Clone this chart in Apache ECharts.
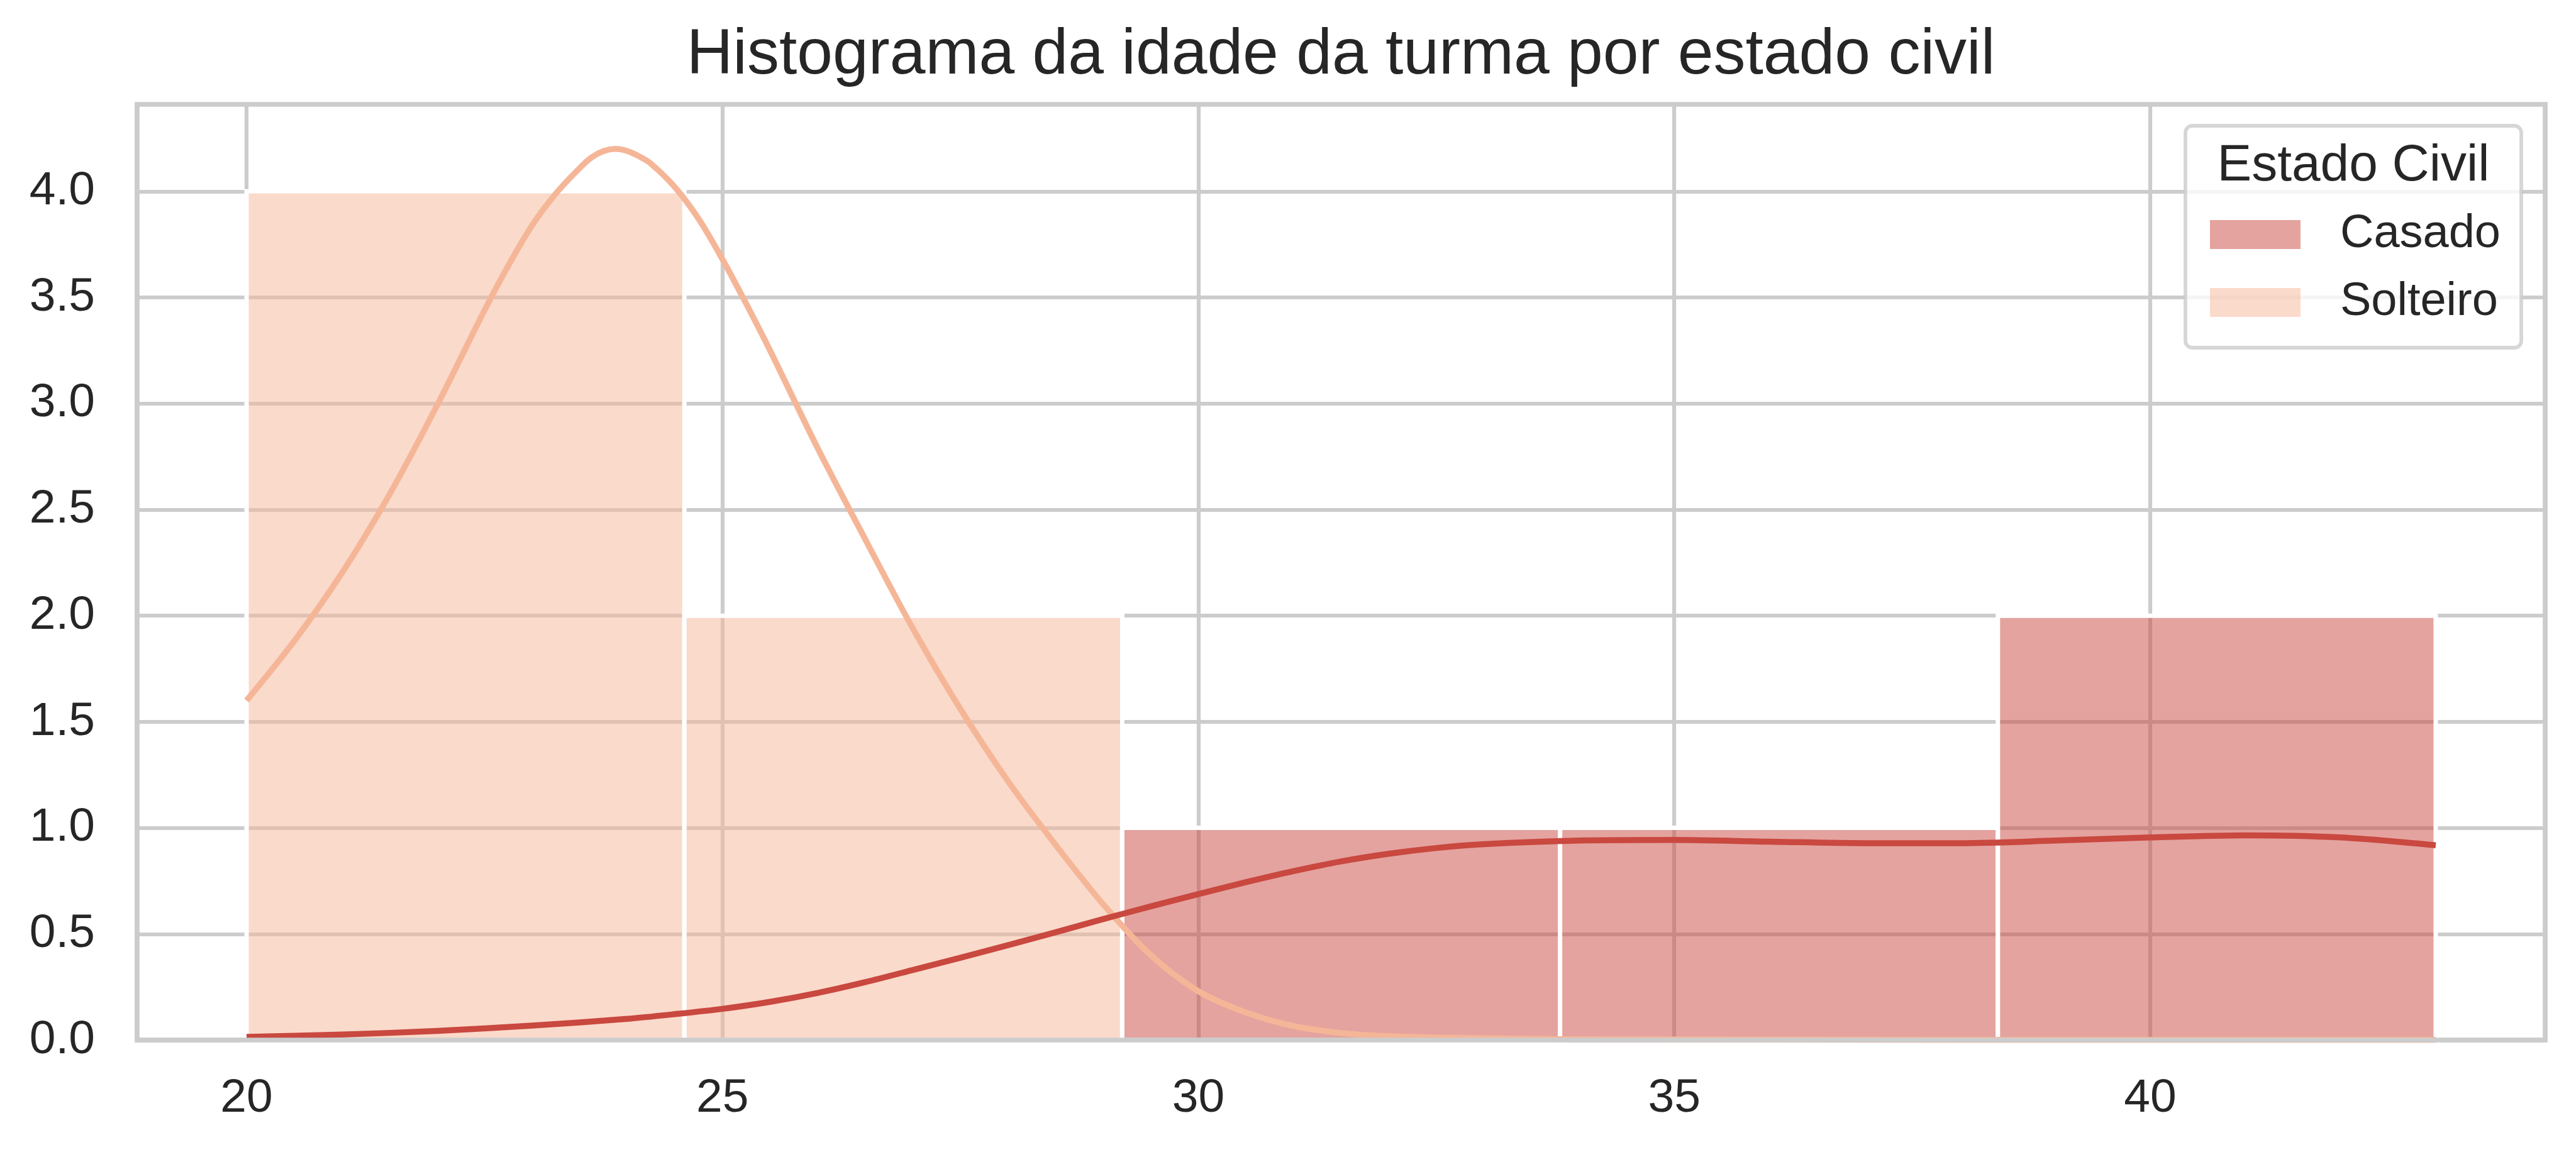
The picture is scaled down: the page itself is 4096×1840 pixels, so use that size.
<!DOCTYPE html>
<html>
<head>
<meta charset="utf-8">
<script src="https://cdn.jsdelivr.net/npm/echarts@6/dist/echarts.min.js"></script>
<style>
html,body{margin:0;padding:0;background:#fff;}
#chart{width:4096px;height:1840px;}
</style>
</head>
<body>
<div id="chart"></div>
<script>
// ---- data ----
const chartTitle = 'Histograma da idade da turma por estado civil';
const legendTitle = 'Estado Civil';
const categories = ['Casado', 'Solteiro'];
const binEdges = [20, 24.6, 29.2, 33.8, 38.4, 43];
const casadoCounts = [0, 0, 1, 1, 2];
const solteiroCounts = [4, 2, 0, 0, 0];
const casadoKdeX = [20, 21, 22, 23, 24, 24.5, 25, 25.5, 26, 26.5, 27, 27.5, 28, 28.5, 29, 29.5, 30, 30.5, 31, 31.5, 32, 32.5, 33, 34, 35, 36, 37, 38, 39, 40, 41, 42, 43];
const casadoKdeY = [0.015, 0.026, 0.043, 0.068, 0.10, 0.122, 0.147, 0.18, 0.222, 0.273, 0.33, 0.388, 0.447, 0.508, 0.57, 0.63, 0.688, 0.744, 0.796, 0.842, 0.878, 0.905, 0.923, 0.94, 0.943, 0.935, 0.928, 0.928, 0.94, 0.955, 0.965, 0.955, 0.918];
const solteiroKdeX = [20, 20.5, 21, 21.5, 22, 22.5, 22.75, 23, 23.25, 23.5, 23.625, 23.75, 23.875, 24, 24.125, 24.25, 24.5, 24.75, 25, 25.25, 25.5, 26, 26.5, 27, 27.5, 28, 28.5, 29, 29.5, 30, 30.5, 31, 31.5, 32, 33, 34, 36, 38, 40, 43];
const solteiroKdeY = [1.60, 1.88, 2.20, 2.57, 2.99, 3.44, 3.65, 3.84, 3.99, 4.11, 4.16, 4.19, 4.20, 4.19, 4.165, 4.13, 4.02, 3.87, 3.68, 3.47, 3.25, 2.79, 2.36, 1.94, 1.56, 1.22, 0.92, 0.64, 0.40, 0.23, 0.13, 0.066, 0.033, 0.018, 0.008, 0.004, 0.002, 0.001, 0.001, 0.001];
const xTicks = [20, 25, 30, 35, 40];
const yTicks = [0, 0.5, 1, 1.5, 2, 2.5, 3, 3.5, 4];
const xRange = [18.85, 44.15];
const yRange = [0, 4.41];

// ---- styles ----
const FONT = '"Liberation Sans", Arial, sans-serif';
const TXT = '#262626';
const lineColors = {Casado: '#C9483F', Solteiro: '#F5B698'};
const barColors = {Casado: 'rgba(201,72,63,0.5)', Solteiro: 'rgba(245,182,152,0.5)'};

function binData(counts) {
  const out = [];
  counts.forEach((c, i) => { if (c > 0) out.push([binEdges[i], binEdges[i + 1], c]); });
  return out;
}
function pairs(xs, ys) { return xs.map((x, i) => [x, ys[i]]); }

function barRender(color) {
  return function (params, api) {
    const p0 = api.coord([api.value(0), api.value(2)]);
    const p1 = api.coord([api.value(1), 0]);
    return {
      type: 'rect',
      shape: {x: p0[0], y: p0[1], width: p1[0] - p0[0], height: p1[1] - p0[1]},
      style: {fill: color, stroke: '#ffffff', lineWidth: 7}
    };
  };
}

const chart = echarts.init(document.getElementById('chart'), null, {renderer: 'canvas'});
chart.setOption({
  animation: false,
  backgroundColor: '#ffffff',
  grid: {left: 218, right: 49, top: 166, bottom: 186, show: true, borderColor: '#cccccc', borderWidth: 7.7, backgroundColor: 'transparent'},
  xAxis: [{
    type: 'value', min: xRange[0], max: xRange[1],
    axisLine: {show: false},
    axisTick: {show: false, customValues: xTicks},
    splitLine: {show: true, lineStyle: {color: '#cccccc', width: 6.2}},
    axisLabel: {customValues: xTicks, margin: 56, fontSize: 75, color: TXT, fontFamily: FONT}
  }, {
    type: 'value', min: xRange[0], max: xRange[1], position: 'bottom', z: 10,
    axisLine: {show: true, onZero: false, lineStyle: {color: '#cccccc', width: 7.7}},
    axisTick: {show: false}, axisLabel: {show: false}, splitLine: {show: false}
  }],
  yAxis: {
    type: 'value', min: yRange[0], max: yRange[1],
    axisLine: {show: false},
    axisTick: {show: false, customValues: yTicks},
    splitLine: {show: true, lineStyle: {color: '#cccccc', width: 6.2}},
    axisLabel: {customValues: yTicks, margin: 67, fontSize: 75, color: TXT, fontFamily: FONT,
      formatter: v => Number(v).toFixed(1)}
  },
  legend: {
    orient: 'vertical', right: 87, top: 200,
    padding: [136, 33, 35, 39],
    itemWidth: 144, itemHeight: 46, itemGap: 34,
    selectedMode: false,
    backgroundColor: 'rgba(255,255,255,0.8)',
    borderColor: 'rgba(204,204,204,0.8)', borderWidth: 5.8, borderRadius: 11,
    textStyle: {fontSize: 74, color: TXT, fontFamily: FONT, padding: [0, 0, 0, 58]},
    data: categories.map(c => ({name: c, icon: 'rect', itemStyle: {color: barColors[c], borderWidth: 0}}))
  },
  graphic: [
    {type: 'text', x: 2132, y: 89, z: 100, style: {text: chartTitle, fontSize: 102, fontFamily: FONT, fill: TXT, textAlign: 'center', textVerticalAlign: 'middle'}},
    {type: 'text', x: 3742, y: 264, z: 100, style: {text: legendTitle, fontSize: 82, fontFamily: FONT, fill: TXT, textAlign: 'center', textVerticalAlign: 'middle'}}
  ],
  series: [
    {name: 'Solteiro', type: 'custom', renderItem: barRender(barColors.Solteiro), itemStyle: {color: barColors.Solteiro},
      encode: {x: [0, 1], y: 2}, data: binData(solteiroCounts), z: 2},
    {name: 'Casado', type: 'custom', renderItem: barRender(barColors.Casado), itemStyle: {color: barColors.Casado},
      encode: {x: [0, 1], y: 2}, data: binData(casadoCounts), z: 2},
    {name: 'Solteiro KDE', type: 'line', smooth: 0.3, symbol: 'none', z: 3,
      lineStyle: {color: lineColors.Solteiro, width: 9.5, join: 'round'}, itemStyle: {color: lineColors.Solteiro},
      data: pairs(solteiroKdeX, solteiroKdeY)},
    {name: 'Casado KDE', type: 'line', smooth: 0.3, symbol: 'none', z: 4,
      lineStyle: {color: lineColors.Casado, width: 9.5, join: 'round'}, itemStyle: {color: lineColors.Casado},
      data: pairs(casadoKdeX, casadoKdeY)}
  ]
});
</script>
</body>
</html>
